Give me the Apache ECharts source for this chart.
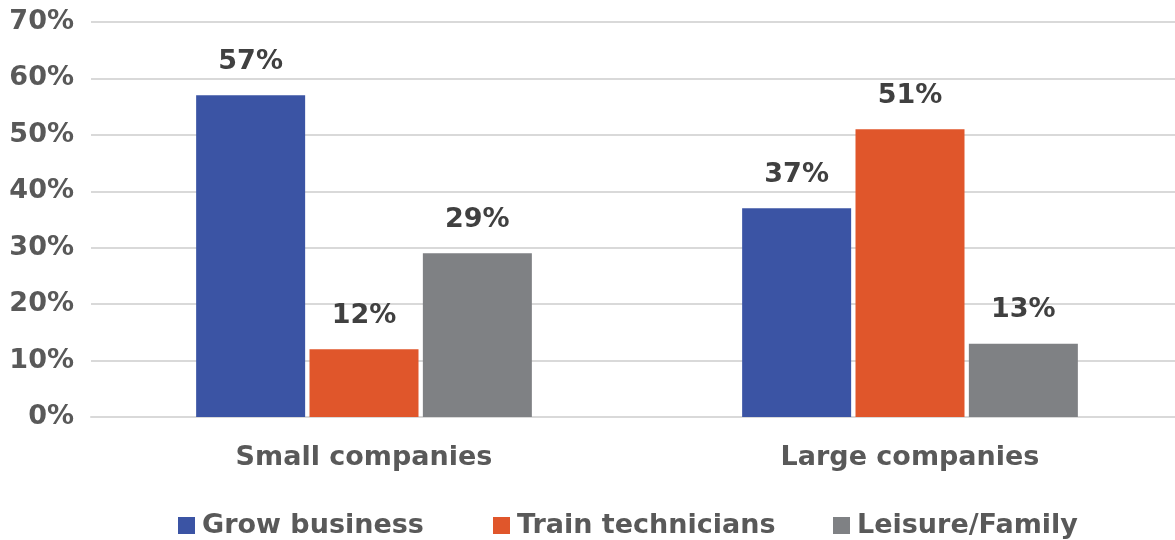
<!DOCTYPE html>
<html>
<head>
<meta charset="utf-8">
<script src="https://cdn.jsdelivr.net/npm/echarts@6/dist/echarts.min.js"></script>
<style>
  html, body { margin: 0; padding: 0; background: #fff; }
  #chart { width: 1175px; height: 540px; }
</style>
</head>
<body>
<div id="chart"></div>
<script>
// Categories and series values (percent)
const categories = ['Small companies', 'Large companies'];
const seriesNames = ['Grow business', 'Train technicians', 'Leisure/Family'];
const growBusiness = [57, 37];
const trainTechnicians = [12, 51];
const leisureFamily = [29, 13];
const yTicks = { min: 0, max: 70, step: 10 };

const FONT = '"DejaVu Sans", sans-serif';
const FONT_SIZE = 27;
const TEXT_COLOR = '#595959';
const labelStyle = {
  show: true,
  position: 'top',
  distance: 20,
  formatter: '{c}%',
  color: '#404040',
  fontFamily: FONT,
  fontWeight: 700,
  fontSize: FONT_SIZE
};

function barSeries(name, data, color) {
  return {
    name: name,
    type: 'bar',
    data: data,
    barWidth: 109,
    barGap: '4%',
    itemStyle: { color: color },
    label: labelStyle
  };
}

// One legend per entry so each key sits in its own slot
const legendLefts = [178, 493, 833];
const legends = seriesNames.map((name, i) => ({
  bottom: 1,
  left: legendLefts[i],
  padding: 0,
  itemWidth: 17,
  itemHeight: 17,
  icon: 'rect',
  textStyle: { color: TEXT_COLOR, fontFamily: FONT, fontWeight: 700, fontSize: FONT_SIZE, padding: [0, 0, 0, 2] },
  data: [name]
}));

const chart = echarts.init(document.getElementById('chart'), null, { renderer: 'canvas' });
chart.setOption({
  animation: false,
  backgroundColor: '#ffffff',
  grid: { left: 91, top: 22, width: 1092, height: 395, containLabel: false, outerBoundsMode: 'none' },
  legend: legends,
  xAxis: {
    type: 'category',
    data: categories,
    axisLine: { show: true, lineStyle: { color: '#D9D9D9', width: 2 } },
    axisTick: { show: false },
    axisLabel: { color: TEXT_COLOR, fontFamily: FONT, fontWeight: 700, fontSize: FONT_SIZE, margin: 27 }
  },
  yAxis: {
    type: 'value',
    min: yTicks.min,
    max: yTicks.max,
    interval: yTicks.step,
    axisLine: { show: false },
    axisTick: { show: false },
    splitLine: { lineStyle: { color: '#D9D9D9', width: 2 } },
    axisLabel: { formatter: '{value}%', color: TEXT_COLOR, fontFamily: FONT, fontWeight: 700, fontSize: FONT_SIZE, margin: 17 }
  },
  series: [
    barSeries(seriesNames[0], growBusiness, '#3B54A4'),
    barSeries(seriesNames[1], trainTechnicians, '#E0562B'),
    barSeries(seriesNames[2], leisureFamily, '#7F8184')
  ]
});
</script>
</body>
</html>
